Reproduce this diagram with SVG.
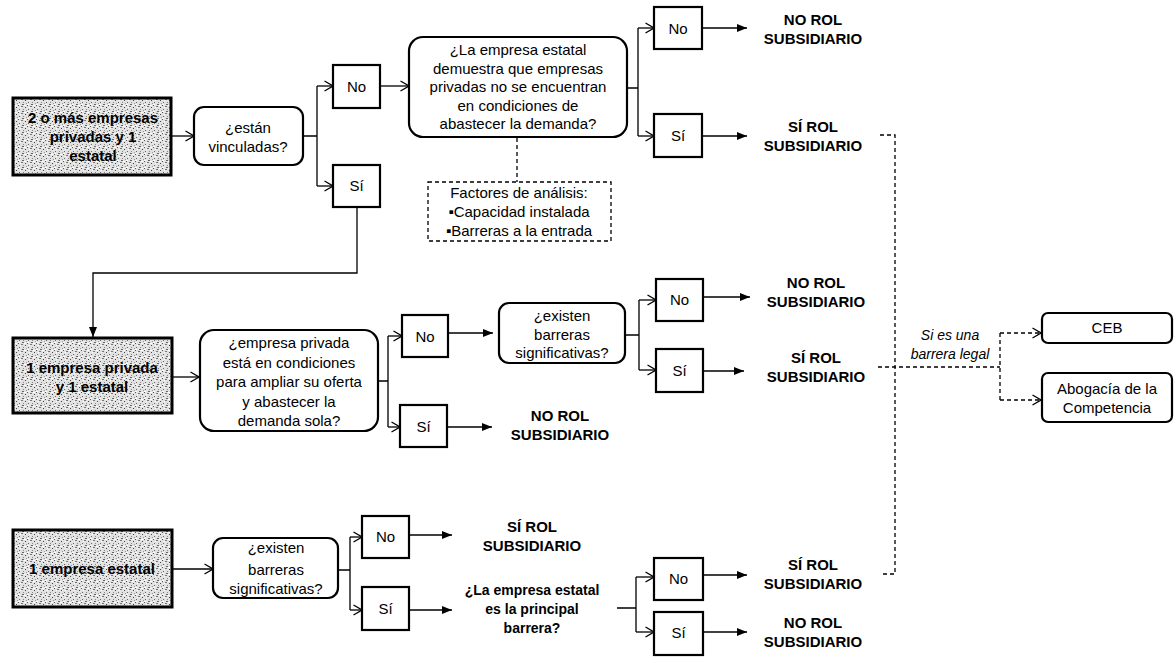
<svg xmlns="http://www.w3.org/2000/svg" width="1176" height="663" viewBox="0 0 1176 663">
  <style>
    text { font-family: "Liberation Sans", Arial, sans-serif; fill: #000; }
    .t { font-size: 15px; text-anchor: middle; }
    .tb { font-size: 15px; font-weight: bold; text-anchor: middle; }
    .tbs { font-size: 14px; font-weight: bold; text-anchor: middle; }
    .ti { font-size: 14px; font-style: italic; text-anchor: middle; }
    .start { stroke: #000; stroke-width: 3; fill: url(#stipple); }
    .dec { stroke: #000; stroke-width: 2.2; fill: #fff; }
    .ans { stroke: #000; stroke-width: 2.2; fill: #fff; }
    .note { stroke: #000; stroke-width: 1.3; stroke-dasharray: 4 3; fill: #fff; }
    .ln { stroke: #000; stroke-width: 1.3; fill: none; }
    .dash { stroke: #000; stroke-width: 1.3; stroke-dasharray: 4 3; fill: none; }
    .open { marker-end: url(#chev); }
    .solid { marker-end: url(#tri); }
  </style>
  <defs>
    <!-- speckled grey fill of the starting boxes -->
    <pattern id="stipple" width="9" height="7" patternUnits="userSpaceOnUse">
      <rect width="9" height="7" fill="#e2e2e2"/>
      <rect x="0" y="0" width="1" height="1" fill="#555"/>
      <rect x="3" y="1" width="2" height="1" fill="#777"/>
      <rect x="7" y="2" width="1" height="1" fill="#444"/>
      <rect x="1" y="4" width="1" height="1" fill="#666"/>
      <rect x="5" y="4" width="1" height="1" fill="#888"/>
      <rect x="4" y="6" width="2" height="1" fill="#666"/>
      <rect x="8" y="5" width="1" height="1" fill="#999"/>
      <rect x="2" y="2" width="1" height="1" fill="#fff"/>
      <rect x="6" y="0" width="2" height="1" fill="#fff"/>
      <rect x="0" y="6" width="2" height="1" fill="#fff"/>
    </pattern>
    <marker id="chev" viewBox="0 0 10 12" refX="9.5" refY="6" markerWidth="10" markerHeight="12" markerUnits="userSpaceOnUse" orient="auto">
      <path d="M1,1 L9.5,6 L1,11" fill="none" stroke="#000" stroke-width="1.3"/>
    </marker>
    <marker id="tri" viewBox="0 0 10 8" refX="10" refY="4" markerWidth="10" markerHeight="8" markerUnits="userSpaceOnUse" orient="auto">
      <path d="M0,0 L10,4 L0,8 Z" fill="#000"/>
    </marker>
  </defs>

  <!-- connectors -->
  <g id="connectors">
    <!-- row 1 -->
    <line class="ln open" x1="172" y1="136" x2="194" y2="136"/>
    <path class="ln" d="M303,136 H317 M317,86 V186"/>
    <line class="ln open" x1="317" y1="86" x2="333" y2="86"/>
    <line class="ln open" x1="317" y1="186" x2="333" y2="186"/>
    <line class="ln open" x1="380" y1="86" x2="409" y2="86"/>
    <line class="dash" x1="517" y1="138" x2="517" y2="182"/>
    <path class="ln" d="M627,88 H638 M638,28 V136"/>
    <line class="ln open" x1="638" y1="28" x2="654" y2="28"/>
    <line class="ln open" x1="638" y1="136" x2="654" y2="136"/>
    <line class="ln solid" x1="702" y1="28" x2="747" y2="28"/>
    <line class="ln solid" x1="702" y1="136" x2="747" y2="136"/>
    <!-- Sí of row 1 leads down to row 2 -->
    <path class="ln solid" d="M357,207 V273 H93 V337"/>

    <!-- row 2 -->
    <line class="ln open" x1="172" y1="377" x2="199" y2="377"/>
    <path class="ln" d="M378,381 H388 M388,336 V427"/>
    <line class="ln open" x1="388" y1="336" x2="402" y2="336"/>
    <line class="ln open" x1="388" y1="427" x2="400" y2="427"/>
    <line class="ln solid" x1="448" y1="333" x2="493" y2="333"/>
    <line class="ln solid" x1="447" y1="427" x2="492" y2="427"/>
    <path class="ln" d="M625,335 H639 M639,300 V370"/>
    <line class="ln open" x1="639" y1="300" x2="656" y2="300"/>
    <line class="ln open" x1="639" y1="370" x2="656" y2="370"/>
    <line class="ln solid" x1="703" y1="297" x2="750" y2="297"/>
    <line class="ln solid" x1="703" y1="371" x2="744" y2="371"/>

    <!-- row 3 -->
    <line class="ln open" x1="172" y1="569" x2="213" y2="569"/>
    <path class="ln" d="M338,570 H350 M350,537 V610"/>
    <line class="ln open" x1="350" y1="537" x2="362" y2="537"/>
    <line class="ln open" x1="350" y1="610" x2="362" y2="610"/>
    <line class="ln solid" x1="409" y1="535" x2="452" y2="535"/>
    <line class="ln solid" x1="409" y1="610" x2="452" y2="610"/>
    <path class="ln" d="M617,608 H636 M636,577 V632"/>
    <line class="ln open" x1="636" y1="577" x2="654" y2="577"/>
    <line class="ln open" x1="636" y1="632" x2="654" y2="632"/>
    <line class="ln solid" x1="703" y1="575" x2="747" y2="575"/>
    <line class="ln solid" x1="703" y1="632" x2="747" y2="632"/>

    <!-- legal barrier branch -->
    <path class="dash" d="M880,135 H895 V574 H880"/>
    <path class="dash" d="M878,367 H1000"/>
    <path class="dash" d="M1000,333 V400"/>
    <line class="dash open" x1="1000" y1="333" x2="1041" y2="333"/>
    <line class="dash open" x1="1000" y1="400" x2="1041" y2="400"/>
  </g>

  <!-- row 1 nodes -->
  <g id="start-2priv">
    <rect class="start" x="13" y="98" width="158" height="77"/>
    <text class="tb" x="93" y="123">2 o más empresas</text>
    <text class="tb" x="93" y="142">privadas y 1</text>
    <text class="tb" x="93" y="161">estatal</text>
  </g>
  <g id="q-vinculadas">
    <rect class="dec" x="194" y="107" width="109" height="58" rx="10"/>
    <text class="t" x="248" y="133">¿están</text>
    <text class="t" x="248" y="152">vinculadas?</text>
  </g>
  <g id="a1-no">
    <rect class="ans" x="333" y="65" width="47" height="43"/>
    <text class="t" x="356.5" y="92">No</text>
  </g>
  <g id="a1-si">
    <rect class="ans" x="333" y="165" width="47" height="42"/>
    <text class="t" x="356.5" y="191">Sí</text>
  </g>
  <g id="q-demuestra">
    <rect class="dec" x="409" y="37" width="218" height="100" rx="14"/>
    <text class="t" x="518" y="55">¿La empresa estatal</text>
    <text class="t" x="518" y="73.5">demuestra que empresas</text>
    <text class="t" x="518" y="92">privadas no se encuentran</text>
    <text class="t" x="518" y="110.5">en condiciones de</text>
    <text class="t" x="518" y="129">abastecer la demanda?</text>
  </g>
  <g id="factores">
    <rect class="note" x="428" y="182" width="183" height="59"/>
    <text class="t" x="519" y="198">Factores de análisis:</text>
    <text class="t" x="519" y="217">▪Capacidad instalada</text>
    <text class="t" x="519" y="236">▪Barreras a la entrada</text>
  </g>
  <g id="a2-no">
    <rect class="ans" x="654" y="7" width="48" height="42"/>
    <text class="t" x="678" y="34">No</text>
  </g>
  <g id="a2-si">
    <rect class="ans" x="654" y="114" width="48" height="43"/>
    <text class="t" x="678" y="141">Sí</text>
  </g>
  <g id="r1-no">
    <text class="tb" x="813" y="25">NO ROL</text>
    <text class="tb" x="813" y="44">SUBSIDIARIO</text>
  </g>
  <g id="r1-si">
    <text class="tb" x="813" y="132">SÍ ROL</text>
    <text class="tb" x="813" y="151">SUBSIDIARIO</text>
  </g>

  <!-- row 2 nodes -->
  <g id="start-1priv">
    <rect class="start" x="13" y="338" width="159" height="75"/>
    <text class="tb" x="92" y="373">1 empresa privada</text>
    <text class="tb" x="92" y="392">y 1 estatal</text>
  </g>
  <g id="q-ampliar">
    <rect class="dec" x="200" y="330" width="178" height="101" rx="14"/>
    <text class="t" x="289" y="348">¿empresa privada</text>
    <text class="t" x="289" y="367.5">está en condiciones</text>
    <text class="t" x="289" y="387">para ampliar su oferta</text>
    <text class="t" x="289" y="406.5">y abastecer la</text>
    <text class="t" x="289" y="426">demanda sola?</text>
  </g>
  <g id="a3-no">
    <rect class="ans" x="402" y="315" width="46" height="42"/>
    <text class="t" x="425" y="342">No</text>
  </g>
  <g id="a3-si">
    <rect class="ans" x="400" y="405" width="47" height="42"/>
    <text class="t" x="423.5" y="432">Sí</text>
  </g>
  <g id="q-barreras-2">
    <rect class="dec" x="499" y="303" width="126" height="60" rx="10"/>
    <text class="t" x="562" y="321">¿existen</text>
    <text class="t" x="562" y="340">barreras</text>
    <text class="t" x="562" y="358">significativas?</text>
  </g>
  <g id="r2-sola">
    <text class="tb" x="560" y="421">NO ROL</text>
    <text class="tb" x="560" y="440">SUBSIDIARIO</text>
  </g>
  <g id="a4-no">
    <rect class="ans" x="656" y="279" width="47" height="42"/>
    <text class="t" x="679.5" y="305">No</text>
  </g>
  <g id="a4-si">
    <rect class="ans" x="656" y="349" width="47" height="43"/>
    <text class="t" x="679.5" y="376">Sí</text>
  </g>
  <g id="r2-no">
    <text class="tb" x="816" y="288">NO ROL</text>
    <text class="tb" x="816" y="307">SUBSIDIARIO</text>
  </g>
  <g id="r2-si">
    <text class="tb" x="816" y="363">SÍ ROL</text>
    <text class="tb" x="816" y="382">SUBSIDIARIO</text>
  </g>

  <!-- legal barrier outcomes -->
  <g id="barrera-legal">
    <text class="ti" x="950" y="340">Si es una</text>
    <text class="ti" x="950" y="359">barrera legal</text>
  </g>
  <g id="ceb">
    <rect class="dec" x="1042" y="313" width="130" height="30" rx="6"/>
    <text class="t" x="1107" y="333">CEB</text>
  </g>
  <g id="abogacia">
    <rect class="dec" x="1042" y="373" width="130" height="49" rx="6"/>
    <text class="t" x="1107" y="394">Abogacía de la</text>
    <text class="t" x="1107" y="413">Competencia</text>
  </g>

  <!-- row 3 nodes -->
  <g id="start-estatal">
    <rect class="start" x="13" y="530" width="159" height="77"/>
    <text class="tb" x="92" y="574">1 empresa estatal</text>
  </g>
  <g id="q-barreras-3">
    <rect class="dec" x="213" y="538" width="125" height="60" rx="10"/>
    <text class="t" x="276" y="553">¿existen</text>
    <text class="t" x="276" y="575">barreras</text>
    <text class="t" x="276" y="594">significativas?</text>
  </g>
  <g id="a5-no">
    <rect class="ans" x="362" y="516" width="47" height="42"/>
    <text class="t" x="385.5" y="542">No</text>
  </g>
  <g id="a5-si">
    <rect class="ans" x="362" y="587" width="47" height="43"/>
    <text class="t" x="385.5" y="614">Sí</text>
  </g>
  <g id="r3-no">
    <text class="tb" x="532" y="532">SÍ ROL</text>
    <text class="tb" x="532" y="551">SUBSIDIARIO</text>
  </g>
  <g id="q-principal">
    <text class="tbs" x="532" y="595">¿La empresa estatal</text>
    <text class="tbs" x="532" y="614">es la principal</text>
    <text class="tbs" x="532" y="633">barrera?</text>
  </g>
  <g id="a6-no">
    <rect class="ans" x="654" y="558" width="49" height="42"/>
    <text class="t" x="678.5" y="584">No</text>
  </g>
  <g id="a6-si">
    <rect class="ans" x="654" y="612" width="49" height="43"/>
    <text class="t" x="678.5" y="638">Sí</text>
  </g>
  <g id="r3-si">
    <text class="tb" x="813" y="570">SÍ ROL</text>
    <text class="tb" x="813" y="589">SUBSIDIARIO</text>
  </g>
  <g id="r3-nosi">
    <text class="tb" x="813" y="628">NO ROL</text>
    <text class="tb" x="813" y="647">SUBSIDIARIO</text>
  </g>
</svg>
